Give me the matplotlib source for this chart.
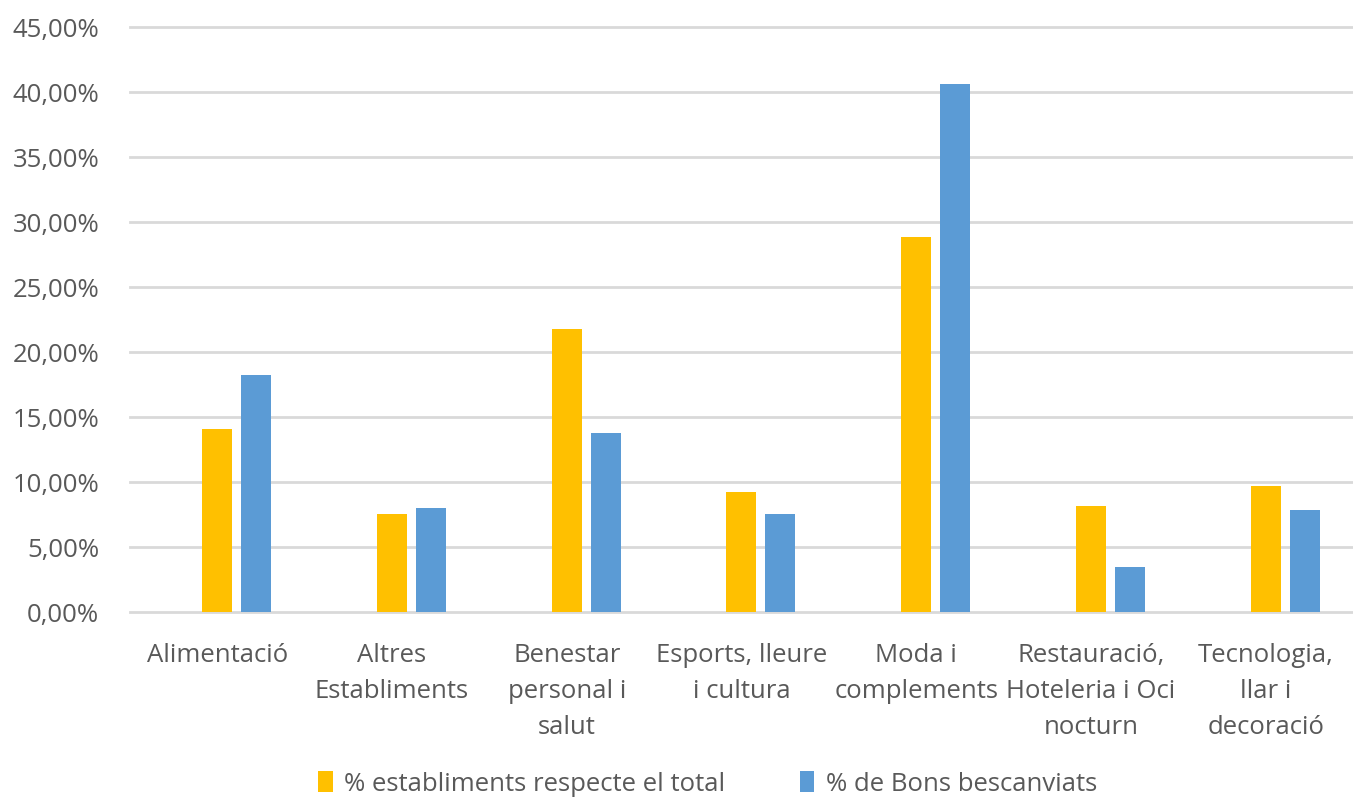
import matplotlib.pyplot as plt
import numpy as np
from matplotlib.ticker import FuncFormatter

# categories (wrapped as in the chart)
categories = ["Alimentació", "Altres\nEstabliments", "Benestar\npersonal i\nsalut",
              "Esports, lleure\ni cultura", "Moda i\ncomplements",
              "Restauració,\nHoteleria i Oci\nnocturn", "Tecnologia,\nllar i\ndecoració"]
establiments = [14.11, 7.54, 21.80, 9.21, 28.88, 8.12, 9.70]
bons = [18.27, 8.00, 13.74, 7.51, 40.62, 3.50, 7.87]
series_names = ["% establiments respecte el total", "% de Bons bescanviats"]
yticks = [0, 5, 10, 15, 20, 25, 30, 35, 40, 45]

plt.rcParams['font.family'] = ['Open Sans', 'DejaVu Sans']
txt = '#595959'

fig = plt.figure(figsize=(13.53, 8.02), dpi=100)
ax = fig.add_axes([0.096, 0.2369, 0.904, 0.7294])

x = np.arange(len(categories))
w = 0.172
off = 0.223
ax.bar(x, establiments, w, color='#FFC000', label=series_names[0], zorder=3)
ax.bar(x + off, bons, w, color='#5B9BD5', label=series_names[1], zorder=3)

ax.set_xlim(-0.5, len(categories) - 0.5)
ax.set_ylim(0, 45)
ax.set_yticks(yticks)
ax.yaxis.set_major_formatter(FuncFormatter(lambda v, p: ("%.2f%%" % v).replace('.', ',')))
# gridlines (not clipped, so the 0 and 45 lines show in full)
for t in yticks:
    ax.axhline(t, color='#D9D9D9', linewidth=2, zorder=0, clip_on=False)
for s in ax.spines.values():
    s.set_visible(False)
ax.tick_params(axis='y', length=0, pad=22, labelsize=18.5, labelcolor=txt)
ax.set_xticks(x)
ax.set_xticklabels(categories, fontsize=18.5, color=txt, linespacing=1.6)
ax.tick_params(axis='x', length=0, pad=22)

fig.legend(loc='lower center', bbox_to_anchor=(0.523, -0.022), ncol=2, frameon=False,
           fontsize=18.5, labelcolor=txt, handlelength=0.55, handleheight=0.85,
           handletextpad=0.45, columnspacing=2.9)

fig.savefig('out.png', dpi=100)
